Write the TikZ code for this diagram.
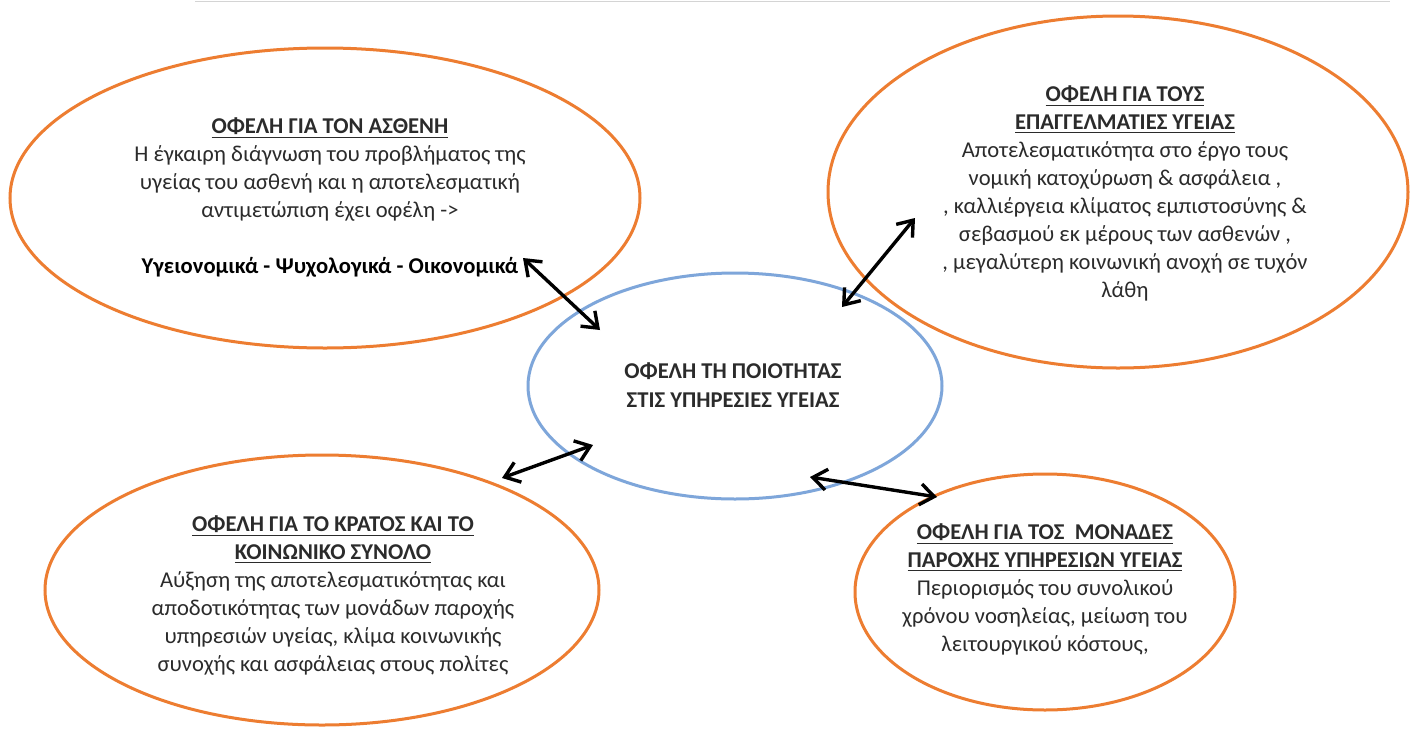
\documentclass[tikz,border=0pt]{standalone}
\usepackage{fontspec}
\setmainfont{Carlito}
\usetikzlibrary{shapes.geometric,arrows.meta}
\definecolor{ringorange}{HTML}{ED7D31}
\definecolor{ringblue}{HTML}{7EA6DA}
\definecolor{inktext}{HTML}{2B2B2B}
\definecolor{frameline}{HTML}{D4D4D4}
\begin{document}
\begin{tikzpicture}[x=0.5pt,y=-0.5pt,
  ring/.style={ellipse, draw=ringorange, line width=1.5pt, inner sep=0pt},
  hub/.style={ellipse, draw=ringblue, line width=1.5pt, inner sep=0pt},
  txt/.style={align=center, font=\fontsize{11.3}{14}\selectfont, text=inktext, inner sep=0pt},
  link/.style={{Straight Barb[length=7pt,width=10.5pt]}-{Straight Barb[length=7pt,width=10.5pt]}, line width=1.7pt, black}
]
\useasboundingbox (0,0) rectangle (1410,729);
\fill[white] (0,0) rectangle (1410,729);

% faint frame edge along the top
\draw[frameline, line width=0.6pt] (195,1.5) -- (1390,1.5);

% the five ellipses
\node[ring, minimum width=315pt, minimum height=150pt] (patient) at (325,198) {};
\node[ring, minimum width=290pt, minimum height=176pt] (staff) at (1118,192) {};
\node[hub,  minimum width=207pt, minimum height=113pt] (quality) at (735,386) {};
\node[ring, minimum width=277pt, minimum height=135pt] (state) at (322,590) {};
\node[ring, minimum width=190pt, minimum height=118pt] (units) at (1045,592) {};

% texts
\node[txt] (patientT) at (330,169) {\textbf{\underline{ΟΦΕΛΗ ΓΙΑ ΤΟΝ ΑΣΘΕΝΗ}}\\
  Η έγκαιρη διάγνωση του προβλήματος της\\
  υγείας του ασθενή και η αποτελεσματική\\
  αντιμετώπιση έχει οφέλη ->};
\node[txt, font=\fontsize{11.3}{14}\selectfont\bfseries, text=black] (patientB) at (330,267)
  {Υγειονομικά - Ψυχολογικά - Οικονομικά};

\node[txt] (staffT) at (1125,193.5) {\textbf{\underline{ΟΦΕΛΗ ΓΙΑ ΤΟΥΣ}}\\
  \textbf{\underline{ΕΠΑΓΓΕΛΜΑΤΙΕΣ ΥΓΕΙΑΣ}}\\
  Αποτελεσματικότητα στο έργο τους\\
  νομική κατοχύρωση \& ασφάλεια ,\\
  , καλλιέργεια κλίματος εμπιστοσύνης \&\\
  σεβασμού εκ μέρους των ασθενών ,\\
  , μεγαλύτερη κοινωνική ανοχή σε τυχόν\\
  λάθη};

\node[txt, font=\fontsize{11.3}{14.5}\selectfont\bfseries] (qualityT) at (733,385)
  {ΟΦΕΛΗ ΤΗ ΠΟΙΟΤΗΤΑΣ\\ΣΤΙΣ ΥΠΗΡΕΣΙΕΣ ΥΓΕΙΑΣ};

\node[txt] (stateT) at (333,595) {\textbf{\underline{ΟΦΕΛΗ ΓΙΑ ΤΟ ΚΡΑΤΟΣ ΚΑΙ ΤΟ}}\\
  \textbf{\underline{ΚΟΙΝΩΝΙΚΟ ΣΥΝΟΛΟ}}\\
  Αύξηση της αποτελεσματικότητας και\\
  αποδοτικότητας των μονάδων παροχής\\
  υπηρεσιών υγείας, κλίμα κοινωνικής\\
  συνοχής και ασφάλειας στους πολίτες};

\node[txt] (unitsT) at (1045,589) {\textbf{\underline{ΟΦΕΛΗ ΓΙΑ ΤΟΣ\ \ ΜΟΝΑΔΕΣ}}\\
  \textbf{\underline{ΠΑΡΟΧΗΣ ΥΠΗΡΕΣΙΩΝ ΥΓΕΙΑΣ}}\\
  Περιορισμός του συνολικού\\
  χρόνου νοσηλείας, μείωση του\\
  λειτουργικού κόστους,};

% arrow ends
\coordinate (p1) at (523,258);  \coordinate (q1) at (600,330);
\coordinate (p2) at (915,218);  \coordinate (q2) at (842,307);
\coordinate (p3) at (502,478);  \coordinate (q3) at (593,445);
\coordinate (p4) at (937,497);  \coordinate (q4) at (810,477);

\draw[link] (p1) -- (q1);
\draw[link] (p2) -- (q2);
\draw[link] (p3) -- (q3);
\draw[link] (p4) -- (q4);
\end{tikzpicture}
\end{document}
